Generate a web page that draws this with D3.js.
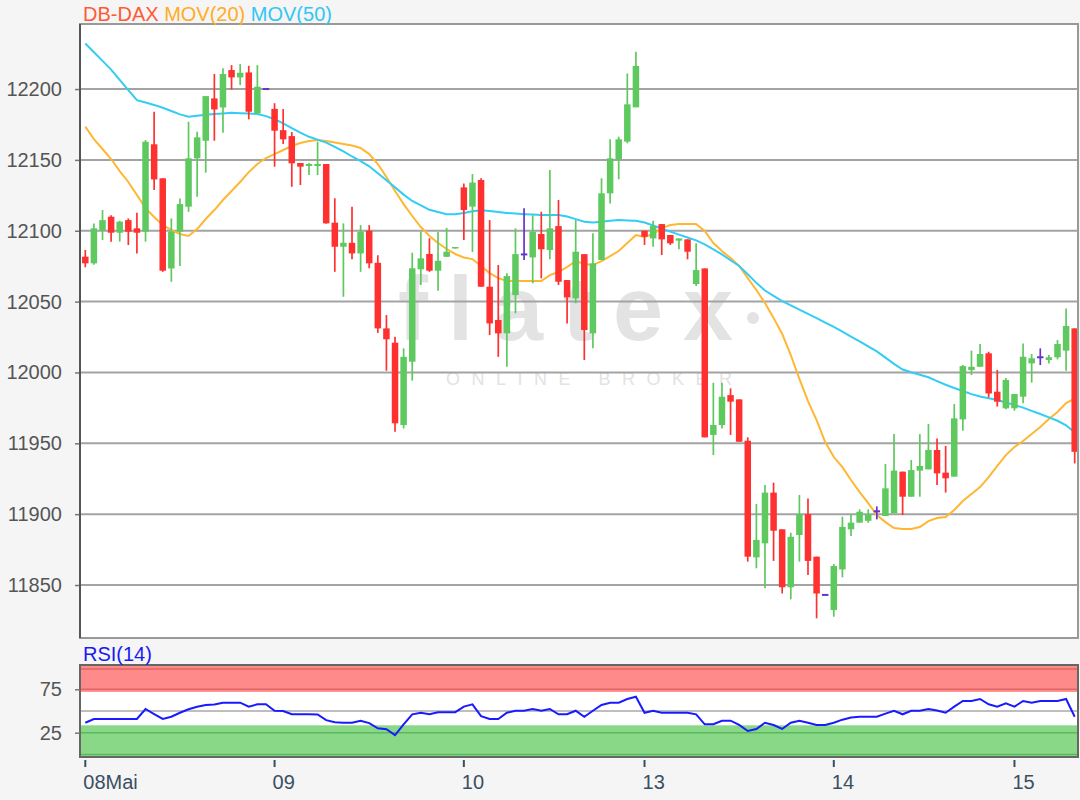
<!DOCTYPE html>
<html><head><meta charset="utf-8">
<script src="https://cdn.jsdelivr.net/npm/d3@7"></script>
<style>
body{margin:0;background:#f5f5f5;}
svg{display:block;font-family:"Liberation Sans",Arial,sans-serif;}
</style>
</head><body>
<svg id="c" width="1080" height="800"></svg>
<script>
// ---- data ----
const dayLabels = ["08Mai","09","10","13","14","15"];
const dayStartIdx = [0,22,44,65,87,108];
const priceTicks = [11850,11900,11950,12000,12050,12100,12150,12200];
const rsiTicks = [25,75];

const openP = [12081.7,12077,12100.5,12109.9,12098.6,12107.5,12101.7,12099.3,12161,12137,
12073.4,12099.3,12117,12151.1,12163.5,12193.4,12187,12213.4,12208.2,12211.7,
12182.8,12200,12186,12171,12166.8,12147.8,12145.7,12145.7,12147.1,12105.7,
12088.7,12091.5,12084,12100,12077.4,12031.1,12021,11962.9,12007.6,12072.8,
12083.6,12071.8,12081.6,12087.5,12130.6,12117,12135.8,12060.5,12037,12027.6,
12054.6,12083.3,12081.2,12097.7,12086.4,12103.3,12065.2,12052.3,12083.5,12027.6,
12079.3,12126.4,12150.5,12162.9,12187.1,12100,12094.6,12104.7,12097,12093,
12093.9,12062.4,12073.4,11955.9,11962.9,11984,11981,11951.8,11869.5,11879.4,
11915.2,11889.3,11848.4,11885.3,11900,11870,11843,11832.3,11861,11889.3,
11894,11895.3,11902,11898.7,11900.6,11930,11912.3,11930.7,11931.6,11945.3,
11929.3,11926.5,11966.9,12001.7,12004,12013.5,11986.4,11974.7,11974.7,11982.9,
12006.4,12010.7,12008.8,12010.7,12015.4,12031.1];
const highP = [12086.4,12105.2,12114.6,12111,12107,12108.7,12112.7,12164,12184,12137,
12108.7,12122.8,12176.9,12169.9,12195,12210.6,12214.6,12216.9,12217.6,12216.4,
12216.9,12200,12190,12185.9,12169.7,12147.8,12147.8,12162.8,12147.1,12122.9,
12105.2,12117,12104,12104,12082.7,12040.5,12025.2,12017,12084.5,12099.3,
12094.7,12099.3,12102,12088.5,12133.4,12140,12137,12107.5,12075.8,12070,
12101.7,12115.8,12111,12113.4,12142.8,12121.7,12065.2,12107.5,12083.5,12098.2,
12137,12164.5,12166.4,12211,12226.3,12100,12107.1,12104.7,12097,12094.6,
12093.9,12091.1,12073.4,11992.7,11992.7,11988.8,11981,11954.2,11907.2,11920.6,
11922.2,11889.3,11886.9,11913.5,11911,11870,11843,11864.8,11898.2,11900,
11903.4,11903.4,11905.5,11935.4,11956.5,11930,11938.2,11956.5,11963.6,11953.4,
11948.1,11977.7,12005.2,12015.4,12020,12014.6,12001.7,11996,11984.8,12020.5,
12013,12017,12012.3,12022.9,12045.2,12031.1];
const lowP = [12074.2,12076,12093.4,12092.3,12092.3,12089.9,12084,12092.3,12128.7,12071,
12064,12075.1,12113.4,12124,12141,12163.5,12169.2,12199.7,12202.8,12178.6,
12182.8,12200,12145.2,12161.2,12131,12132.3,12139.3,12139.3,12105,12071,
12053.4,12079.8,12071,12073.5,12027.9,12001.2,11958.2,11960.5,11994.2,12061.7,
12071,12057.6,12081.6,12087.5,12093.4,12085,12060.5,12026.4,12011,12004,
12041.7,12079.3,12062.9,12066.4,12079.8,12061.7,12034.6,12048.8,12008.8,12017,
12079.3,12119.3,12136.3,12161.7,12187.1,12090,12088.7,12082.9,12090,12086.9,
12079.8,12061,11954.2,11941.7,11960.5,11955.9,11951.1,11866.5,11861.8,11847.7,
11867,11844,11839.9,11866.5,11857.1,11826.5,11843,11827.6,11855.4,11884.6,
11894,11893.9,11896.3,11898.7,11900.6,11899.4,11912.3,11912.3,11931.6,11920.6,
11915.2,11926.5,11958.9,11998.2,12004,11982.4,11975.9,11974,11973,11978.2,
11992.8,12005.2,12006.4,12009.2,12001.2,11935.8];
const closeP = [12077,12101.7,12107.5,12098.6,12106.4,12099.3,12098.6,12162.8,12136.2,12071.8,
12099.3,12118.8,12151.1,12165.9,12195,12185.6,12210.6,12208.2,12211.5,12184,
12201.6,12200,12170.6,12164.5,12147.6,12145.2,12147.1,12147.1,12105.2,12088.7,
12091.5,12084,12099.3,12077,12031.1,12023.4,11964.1,12011,12073.5,12080.5,
12071.8,12078.8,12085.2,12088.5,12114.6,12134,12060.5,12034.6,12027.6,12068,
12083.5,12083.3,12099.3,12086.9,12101.7,12064,12053,12085.2,12029.9,12077,
12126.4,12151.1,12164.5,12189.2,12216.3,12095.8,12103.3,12093.9,12091.1,12094.6,
12085.2,12072.3,11954.2,11962.9,11982.9,11979.4,11951.1,11870,11881.8,11915.2,
11888.3,11848.4,11884,11900,11867,11844,11843,11863.4,11891,11894,
11901.7,11900,11902,11918.2,11930.7,11912.3,11931.1,11934,11945.3,11928.8,
11925.3,11967.6,12004.5,12004,12013,11985.2,11979.4,11994.7,11984.8,12011.1,
12010,12010.7,12010.7,12020.1,12032.8,11944];

const mov20 = [12173.5,12164.7,12157.7,12150.6,12142.1,12134.4,12125.2,12116,12109.7,12104.1,
12100.5,12097.7,12096.3,12101.2,12108.3,12114.6,12121.7,12128,12134.4,12141.4,
12147.1,12151.3,12154.1,12157,12159.8,12161.9,12163.3,12164,12163.3,12162.2,
12161.2,12160.1,12158.4,12154.1,12147.1,12137.9,12128,12118.8,12110.4,12102.6,
12096.3,12091.3,12087.1,12083.6,12081.1,12080,12075.1,12070.1,12066.6,12064.5,
12064.5,12064.5,12064.5,12064.5,12068.7,12070.9,12074.4,12078.6,12076.5,12075.8,
12078.6,12082.1,12085.7,12091.3,12097,12095.6,12097.7,12101.9,12104,12104.7,
12104.7,12104.7,12099.8,12091.3,12085.7,12080.7,12075.1,12066.6,12058.2,12049,
12038.5,12027.2,12012.3,11995.4,11979.8,11966.4,11950.9,11940.3,11933.2,11924.1,
11915.6,11907.8,11899.4,11894.4,11890.2,11889.5,11889.5,11890.9,11895.1,11897.3,
11898,11902.9,11909.3,11914.2,11919.1,11926.2,11934,11941.7,11947.4,11951.6,
11956.5,11961.5,11967.1,11972.1,11978.4,11981.6];
const mov50 = [12232.1,12226,12219.9,12213.7,12206.4,12199.3,12192.2,12190.5,12188.8,12186.8,
12184.5,12182.1,12180.5,12181.2,12181.8,12182.4,12182.8,12183.2,12183,12182.7,
12182.4,12180.9,12178.7,12175.7,12172.5,12169.2,12166.3,12164.3,12162.2,12159.2,
12156,12152.4,12149.1,12145.5,12140.6,12135.6,12130.6,12125.5,12121,12117.9,
12114.8,12113.2,12111.7,12111.7,12112.6,12113.7,12114.5,12113.9,12113.2,12112.6,
12112.1,12111.7,12111.4,12111.1,12111.1,12111.1,12110,12108.2,12106.3,12105.9,
12106.4,12107,12107.5,12107.3,12107,12105.8,12103.7,12101.6,12099.4,12097.3,
12095.2,12093.2,12090.4,12086.9,12083.3,12079.2,12075.1,12069.3,12063.2,12057.8,
12054.1,12050.4,12047.4,12044.3,12041.3,12038.3,12035.2,12032.1,12028.8,12025.3,
12022,12018.4,12014.9,12010.5,12006.1,12002.1,12000.1,11998.4,11996.6,11993.9,
11991.3,11989,11986.9,11984.7,11983,11981.8,11980.5,11978.8,11977,11975.2,
11972.9,11970.7,11968.3,11965.9,11962.7,11957.7];
const rsi14 = [36.5,40.8,40.8,40.8,40.8,40.8,40.8,52.3,46.5,40.8,
43.4,48,52,54.8,57,57.5,59.5,59.6,59.6,55,
57.7,57.7,50.3,50,46.2,46.2,46.2,46,39.5,37,
36.5,36.5,38.8,36,30,29,22.3,34.5,46.2,48,
46.2,48.6,48.6,48.6,55,57.7,44,40.8,40.8,48,
50.3,50.3,52.3,50.3,52.3,46.2,46.2,50.3,43.4,50.3,
56.9,59.6,59.6,63.8,66.5,48,50.3,48,48,48,
48,46.2,34.7,34.7,38.8,38.8,34,27,29.3,36.5,
33.9,29.3,36.5,38.8,36.5,33.9,33.9,36.5,40,42.5,
43.4,43.4,43.4,47,50.3,46.2,50.3,50.3,52.3,50.5,
48,55,61.5,61.5,63.8,57.7,55,58.9,55,61.5,
59.6,61.5,61.5,61.5,63.8,43.4];

// ---- layout ----
const L=80, R=1078, T=24, B=638;
const RT=665, RB=757;
const svg = d3.select("#c");
const idx = d3.range(openP.length);
const x = d3.scaleBand().domain(idx).range([81,1079]);
const cx = i => x(i) + x.bandwidth()/2;
const y = d3.scaleLinear().domain([11812.6,12245.9]).range([B,T]);
const ry = d3.scaleLinear().domain([-3,103]).range([RB,RT]);

const RED="#ff3030", GREEN="#5ec95e", DOJI="#6633cc";

// plot backgrounds
svg.append("rect").attr("x",L).attr("y",T).attr("width",R-L).attr("height",B-T).attr("fill","#fff");
svg.append("rect").attr("x",L).attr("y",RT).attr("width",R-L).attr("height",RB-RT).attr("fill","#fff");

svg.append("defs").append("clipPath").attr("id","clip")
  .append("rect").attr("x",L).attr("y",T).attr("width",R-L).attr("height",B-T);
svg.select("defs").append("clipPath").attr("id","rclip")
  .append("rect").attr("x",L).attr("y",RT).attr("width",R-L).attr("height",RB-RT);

// watermark
const wm = svg.append("g").attr("fill","#e3e3e3");
wm.append("text").attr("x",398).attr("y",340).attr("font-size",90).attr("font-weight","bold")
  .attr("letter-spacing",20).text("flatex");
wm.append("circle").attr("cx",753).attr("cy",318).attr("r",6);
wm.append("text").attr("x",446).attr("y",385).attr("font-size",18)
  .attr("letter-spacing",11.5).text("ONLINE BROKER");

// grid
svg.append("g").selectAll("line").data(priceTicks).join("line")
  .attr("x1",L).attr("x2",R).attr("y1",d=>y(d)).attr("y2",d=>y(d))
  .attr("stroke","#a3a3a3").attr("stroke-width",2);

// y axis
const ya = svg.append("g").attr("transform",`translate(${L},0)`)
  .call(d3.axisLeft(y).tickValues(priceTicks).tickSize(5).tickPadding(13).tickFormat(d3.format("d")));
ya.select(".domain").remove();
ya.selectAll("line").attr("stroke","#777").attr("stroke-width",1.5);
ya.selectAll("text").attr("fill","#555").attr("font-size",20).attr("font-family","Liberation Sans, Arial, sans-serif");

// moving averages
const g = svg.append("g").attr("clip-path","url(#clip)");
const line = d3.line().x((d,i)=>cx(i)).y(d=>y(d));
g.append("path").datum(mov20).attr("d",line).attr("fill","none").attr("stroke","#ffb732").attr("stroke-width",2);
g.append("path").datum(mov50).attr("d",line).attr("fill","none").attr("stroke","#33ccf5").attr("stroke-width",2);

// candles
const bw = 6.5;
const cg = g.append("g");
idx.forEach(i=>{
  const o=openP[i], c=closeP[i], h=highP[i], l=lowP[i];
  const col = o===c ? DOJI : (c>o ? GREEN : RED);
  if (h>l) cg.append("line").attr("x1",cx(i)).attr("x2",cx(i)).attr("y1",y(h)).attr("y2",y(l))
    .attr("stroke",col).attr("stroke-width",1.7);
  if (o===c) {
    cg.append("line").attr("x1",cx(i)-bw/2).attr("x2",cx(i)+bw/2).attr("y1",y(o)).attr("y2",y(o))
      .attr("stroke",DOJI).attr("stroke-width",2);
  } else {
    const top=y(Math.max(o,c)), bot=y(Math.min(o,c));
    cg.append("rect").attr("x",cx(i)-bw/2).attr("width",bw).attr("y",top)
      .attr("height",Math.max(1.5,bot-top)).attr("fill",col);
  }
});

// frame
svg.append("rect").attr("x",L).attr("y",T).attr("width",R-L).attr("height",B-T)
  .attr("fill","none").attr("stroke","#999").attr("stroke-width",2);
svg.append("line").attr("x1",L).attr("x2",L).attr("y1",T).attr("y2",B).attr("stroke","#555").attr("stroke-width",2);

// title
const tt = svg.append("text").attr("x",83).attr("y",21).attr("font-size",20);
tt.append("tspan").attr("fill","#ff5a36").text("DB-DAX ");
tt.append("tspan").attr("fill","#ffad1f").text("MOV(20) ");
tt.append("tspan").attr("fill","#33c6f2").text("MOV(50)");

// RSI panel
const rg = svg.append("g");
rg.append("rect").attr("x",L).attr("width",R-L).attr("y",ry(103)).attr("height",ry(72)-ry(103)).attr("fill","#ff8a8a");
rg.append("rect").attr("x",L).attr("width",R-L).attr("y",ry(33.5)).attr("height",ry(-3)-ry(33.5)).attr("fill","#88d888");
[98.5,75].forEach(v=>rg.append("line").attr("x1",L).attr("x2",R).attr("y1",ry(v)).attr("y2",ry(v)).attr("stroke","#e06565").attr("stroke-width",1.5));
[25,0].forEach(v=>rg.append("line").attr("x1",L).attr("x2",R).attr("y1",ry(v)).attr("y2",ry(v)).attr("stroke","#5cb85c").attr("stroke-width",1.5));
rg.append("line").attr("x1",L).attr("x2",R).attr("y1",ry(50)).attr("y2",ry(50)).attr("stroke","#a8a8a8").attr("stroke-width",1.5);
rg.append("path").datum(rsi14).attr("clip-path","url(#rclip)")
  .attr("d",d3.line().x((d,i)=>cx(i)).y(d=>ry(d))).attr("fill","none").attr("stroke","#1a1aff").attr("stroke-width",2);
rg.append("rect").attr("x",L).attr("y",RT).attr("width",R-L).attr("height",RB-RT)
  .attr("fill","none").attr("stroke","#666").attr("stroke-width",2);

const ra = svg.append("g").attr("transform",`translate(${L},0)`)
  .call(d3.axisLeft(ry).tickValues(rsiTicks).tickSize(5).tickPadding(13));
ra.select(".domain").remove();
ra.selectAll("line").attr("stroke","#777").attr("stroke-width",1.5);
ra.selectAll("text").attr("fill","#555").attr("font-size",20).attr("font-family","Liberation Sans, Arial, sans-serif");

svg.append("text").attr("x",83).attr("y",661).attr("font-size",20).attr("fill","#1a1aee").text("RSI(14)");

// x axis
const xa = svg.append("g").attr("transform",`translate(0,${RB+3})`)
  .call(d3.axisBottom(x).tickValues(dayStartIdx).tickSize(7).tickPadding(8).tickFormat((d,i)=>dayLabels[i]));
xa.select(".domain").remove();
xa.selectAll("line").attr("stroke","#3b4f63").attr("stroke-width",2);
xa.selectAll("text").attr("text-anchor","start").attr("dx",-2).attr("fill","#3b4f63")
  .attr("font-size",20).attr("font-family","Liberation Sans, Arial, sans-serif");
</script>
</body></html>
